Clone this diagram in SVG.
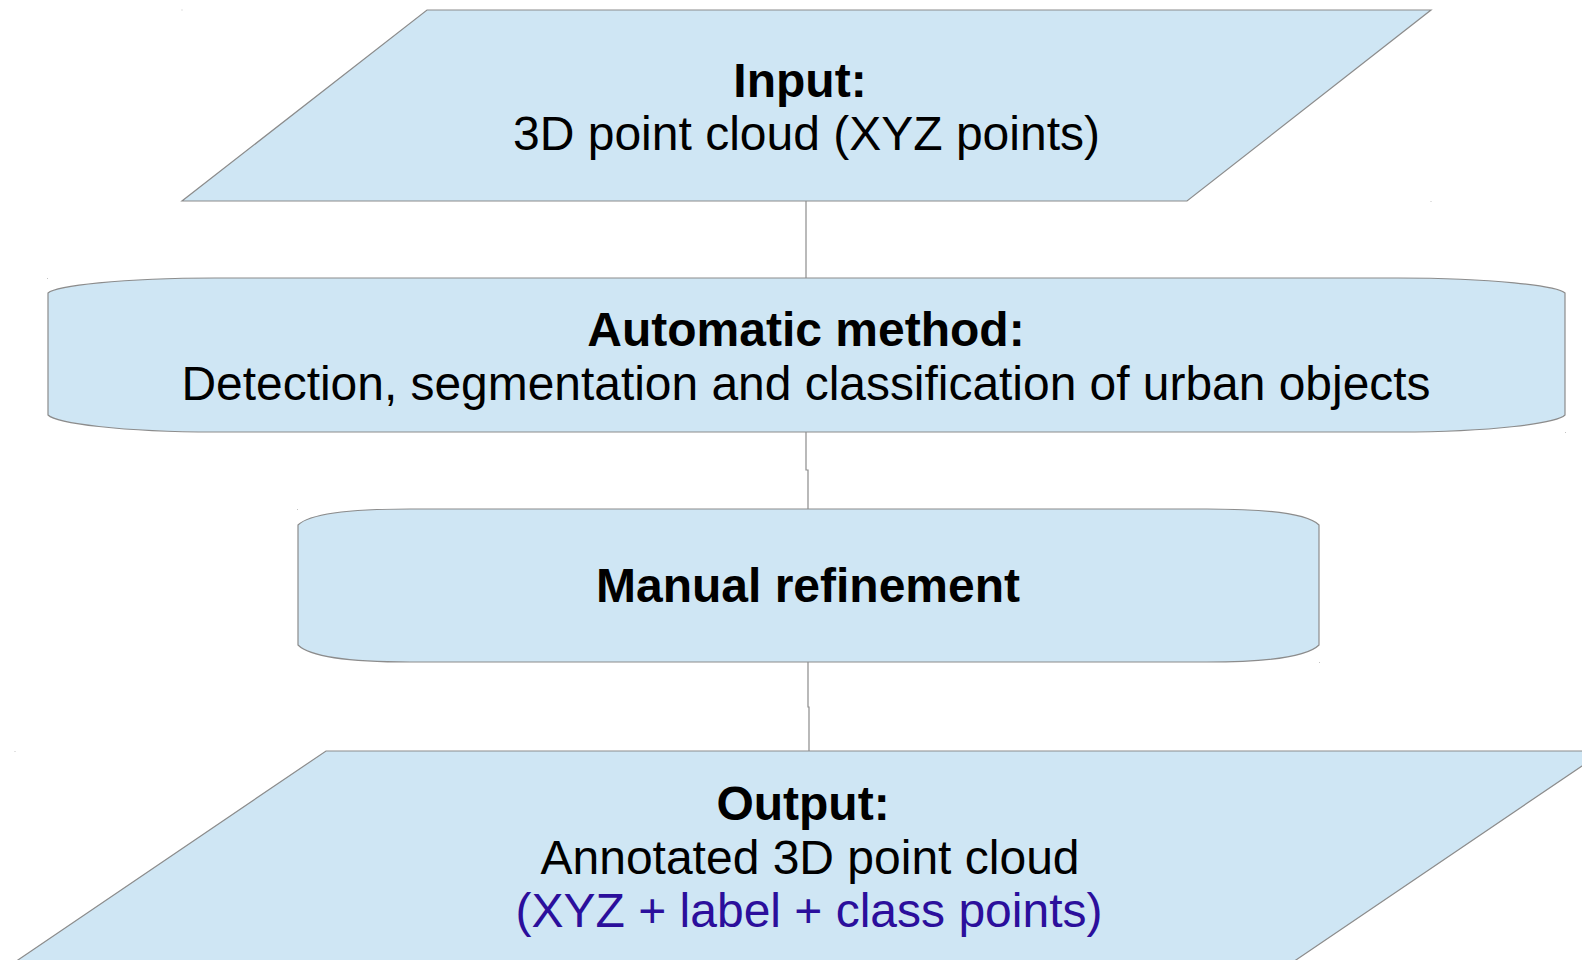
<svg xmlns="http://www.w3.org/2000/svg" width="1582" height="960" viewBox="0 0 1582 960">
  <style>
    .shape { fill: #cfe6f4; stroke: #8c8c8c; stroke-width: 1.2; }
    .conn { fill: none; stroke: #8c8c8c; stroke-width: 1.2; }
    .dot { fill: #c4c4c4; }
    text { font-family: "Liberation Sans", Arial, sans-serif; font-size: 48px; text-anchor: middle; fill: #000000; }
    .b { font-weight: bold; }
    .blue { fill: #2b0f9c; }
  </style>
  <rect width="1582" height="960" fill="#ffffff"/>
  <g id="connectors">
    <path class="conn" d="M806,201 L806,278"/>
    <path class="conn" d="M806,432 L806,470 L808,470 L808,509"/>
    <path class="conn" d="M808,662 L808,707 L809,707 L809,751"/>
  </g>
  <g id="input">
    <path class="shape" d="M427,10 L1431,10 L1187,201 L182,201 Z"/>
    <rect class="dot" x="181.5" y="9.5" width="1" height="1"/>
    <rect class="dot" x="1430.5" y="201" width="1" height="1"/>
    <text x="800" y="97" class="b">Input:</text>
    <text x="806.5" y="150">3D point cloud (XYZ points)</text>
  </g>
  <g id="automatic">
    <path class="shape" d="M48,293 C56,286 120,278 215,278 L1398,278 C1493,278 1557,286 1565,293 L1565,415 C1557,423 1493,432 1398,432 L215,432 C120,432 56,423 48,415 Z"/>
    <rect class="dot" x="47" y="278" width="1" height="1"/>
    <rect class="dot" x="1565" y="432" width="1" height="1"/>
    <text x="806" y="346" class="b">Automatic method:</text>
    <text x="806" y="400" textLength="1249" lengthAdjust="spacingAndGlyphs">Detection, segmentation and classification of urban objects</text>
  </g>
  <g id="manual">
    <path class="shape" d="M298,525 C306,517 330,509 410,509 L1207,509 C1287,509 1311,517 1319,525 L1319,645 C1311,653 1287,662 1207,662 L410,662 C330,662 306,653 298,645 Z"/>
    <rect class="dot" x="297" y="509" width="1" height="1"/>
    <rect class="dot" x="1319" y="662" width="1" height="1"/>
    <text x="808" y="602" class="b">Manual refinement</text>
  </g>
  <g id="output">
    <path class="shape" d="M326,751 L1604,751 L1293,962 L15,962 Z"/>
    <rect class="dot" x="14.5" y="751" width="1" height="1"/>
    <text x="803" y="820" class="b">Output:</text>
    <text x="810" y="874">Annotated 3D point cloud</text>
    <text x="809" y="927" class="blue">(XYZ + label + class points)</text>
  </g>
</svg>
